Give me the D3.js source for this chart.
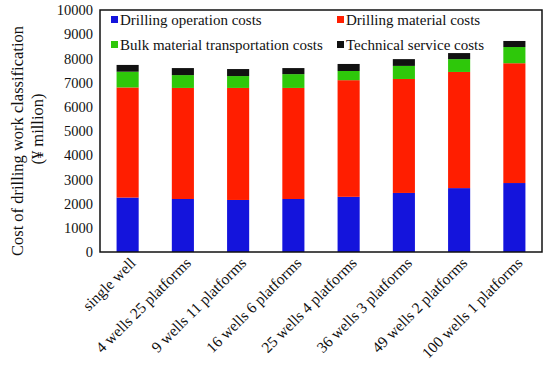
<!DOCTYPE html>
<html>
<head>
<meta charset="utf-8">
<script src="https://cdn.jsdelivr.net/npm/d3@7"></script>
<style>
  body { margin: 0; background: #fff; }
  svg, svg text { font-family: "Liberation Serif", "Times New Roman", serif !important; }
</style>
</head>
<body>
<div id="chart"></div>
<script>
// categories and stacked series (¥ million)
const categories = ['single well', '4 wells 25 platforms', '9 wells 11 platforms', '16 wells 6 platforms',
  '25 wells 4 platforms', '36 wells 3 platforms', '49 wells 2 platforms', '100 wells 1 platforms'];
const seriesNames = ['Drilling operation costs', 'Drilling material costs',
  'Bulk material transportation costs', 'Technical service costs'];
const drillingOperation = [2250, 2190, 2150, 2190, 2280, 2440, 2640, 2850];
const drillingMaterial = [4550, 4590, 4630, 4590, 4820, 4710, 4800, 4950];
const bulkTransport = [650, 530, 490, 570, 380, 540, 530, 670];
const technicalService = [280, 290, 290, 250, 290, 280, 250, 250];
const yTicks = [0, 1000, 2000, 3000, 4000, 5000, 6000, 7000, 8000, 9000, 10000];
const colors = ['#1414dc', '#ff1e00', '#2ec80a', '#111111'];

const width = 550, height = 368;
const margin = { top: 10, right: 8, bottom: 116, left: 100 };
const innerW = width - margin.left - margin.right;
const innerH = height - margin.top - margin.bottom;

const svg = d3.select('#chart').append('svg')
  .attr('width', width).attr('height', height);

const g = svg.append('g').attr('transform', `translate(${margin.left},${margin.top})`);

const x = d3.scaleBand().domain(categories).range([0, innerW]).paddingInner(0.6).paddingOuter(0.3);
const y = d3.scaleLinear().domain([0, 10000]).range([innerH, 0]);

// build stack rows
const rows = categories.map((c, i) => ({
  cat: c,
  s0: drillingOperation[i], s1: drillingMaterial[i], s2: bulkTransport[i], s3: technicalService[i]
}));
const stack = d3.stack().keys(['s0', 's1', 's2', 's3'])(rows);

g.selectAll('.layer')
  .data(stack)
  .enter().append('g')
  .attr('fill', (d, i) => colors[i])
  .selectAll('rect')
  .data(d => d)
  .enter().append('rect')
  .attr('x', d => x(d.data.cat))
  .attr('width', x.bandwidth())
  .attr('y', d => y(d[1]))
  .attr('height', d => y(d[0]) - y(d[1]));

// y axis labels
const yAxis = g.append('g')
  .call(d3.axisLeft(y).tickValues(yTicks).tickSize(0).tickPadding(7).tickFormat(d3.format('d')));
yAxis.attr('font-family', null).attr('font-size', null);
yAxis.select('.domain').remove();
yAxis.selectAll('text').attr('font-size', 14.5).attr('fill', '#111');

// x axis labels (rotated)
const xAxis = g.append('g').attr('transform', `translate(0,${innerH})`)
  .call(d3.axisBottom(x).tickSize(0).tickPadding(0));
xAxis.attr('font-family', null).attr('font-size', null);
xAxis.select('.domain').remove();
xAxis.selectAll('text')
  .attr('font-size', 15.5).attr('fill', '#111')
  .attr('text-anchor', 'end')
  .attr('dy', 0)
  .attr('transform', `translate(${x.bandwidth() / 2 - 2},12) rotate(-45)`);

// frame
g.append('rect')
  .attr('width', innerW).attr('height', innerH)
  .attr('fill', 'none').attr('stroke', '#111').attr('stroke-width', 1.5);

// legend
const legendPos = [[12, 20], [238, 20], [12, 45], [238, 45]];
const legend = g.selectAll('.legend')
  .data(seriesNames)
  .enter().append('g')
  .attr('transform', (d, i) => `translate(${legendPos[i][0]},${legendPos[i][1] - margin.top})`);
legend.append('rect')
  .attr('x', -1).attr('y', -4).attr('width', 7).attr('height', 7)
  .attr('fill', (d, i) => colors[i]);
legend.append('text')
  .attr('x', 8).attr('y', 0).attr('dy', '0.35em')
  .attr('font-size', 15).attr('fill', '#111')
  .text(d => d);

// y axis title
svg.append('text')
  .attr('transform', `translate(23,${margin.top + innerH / 2 + 10}) rotate(-90)`)
  .attr('text-anchor', 'middle').attr('font-size', 16.5).attr('fill', '#111')
  .text('Cost of drilling work classification');
svg.append('text')
  .attr('transform', `translate(43,${margin.top + innerH / 2 - 2}) rotate(-90)`)
  .attr('text-anchor', 'middle').attr('font-size', 16.5).attr('fill', '#111')
  .text('(¥ million)');
</script>
</body>
</html>
